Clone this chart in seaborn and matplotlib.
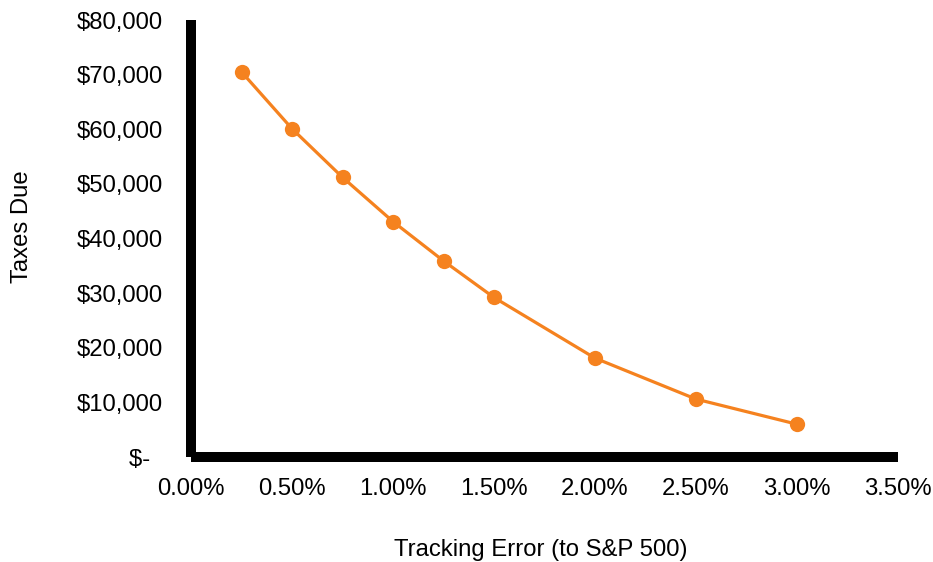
import matplotlib
matplotlib.use("Agg")
import matplotlib.pyplot as plt
import matplotlib.ticker as mticker
import pandas as pd
import seaborn as sns

# tracking error vs taxes due
tracking_error = [0.0025, 0.005, 0.0075, 0.010, 0.0125, 0.015, 0.020, 0.025, 0.030]
taxes_due = [70500, 60100, 51200, 43100, 35900, 29200, 18100, 10600, 6000]

df = pd.DataFrame({"Tracking Error": tracking_error, "Taxes Due": taxes_due})

sns.set_style("white")
plt.rcParams['font.family'] = ['Liberation Sans', 'DejaVu Sans']

fig = plt.figure(figsize=(9.33, 5.62), dpi=100)
ax = fig.add_axes([191 / 933, 1 - 457 / 562, 707 / 933, 437 / 562])

orange = "#F5821F"
sns.lineplot(data=df, x="Tracking Error", y="Taxes Due", ax=ax, color=orange,
             linewidth=2.3, marker="o", markersize=11, markeredgewidth=0,
             markerfacecolor=orange)

ax.set_xlim(0, 0.035)
ax.set_ylim(0, 80000)
ax.set_xticks([i * 0.005 for i in range(8)])
ax.set_yticks(range(0, 80001, 10000))
ax.xaxis.set_major_formatter(mticker.FuncFormatter(lambda v, p: f"{v * 100:.2f}%"))
ax.yaxis.set_major_formatter(mticker.FuncFormatter(
    lambda v, p: "$-  " if v == 0 else f"${v:,.0f}"))
fs = 17.2
ax.tick_params(axis="both", length=0, labelsize=fs, colors="black")
ax.tick_params(axis="y", pad=20)
ax.tick_params(axis="x", pad=15)

for side in ["top", "right"]:
    ax.spines[side].set_visible(False)
for side in ["left", "bottom"]:
    ax.spines[side].set_linewidth(7.2)
    ax.spines[side].set_color("black")
    ax.spines[side].set_capstyle("butt")

ax.set_xlabel("Tracking Error (to S&P 500)", fontsize=fs, color="black")
ax.set_ylabel("Taxes Due", fontsize=fs, color="black")
ax.xaxis.set_label_coords(0.495, -0.188)
ax.yaxis.set_label_coords(-0.223, 0.526)

fig.savefig("out.png", dpi=100)
